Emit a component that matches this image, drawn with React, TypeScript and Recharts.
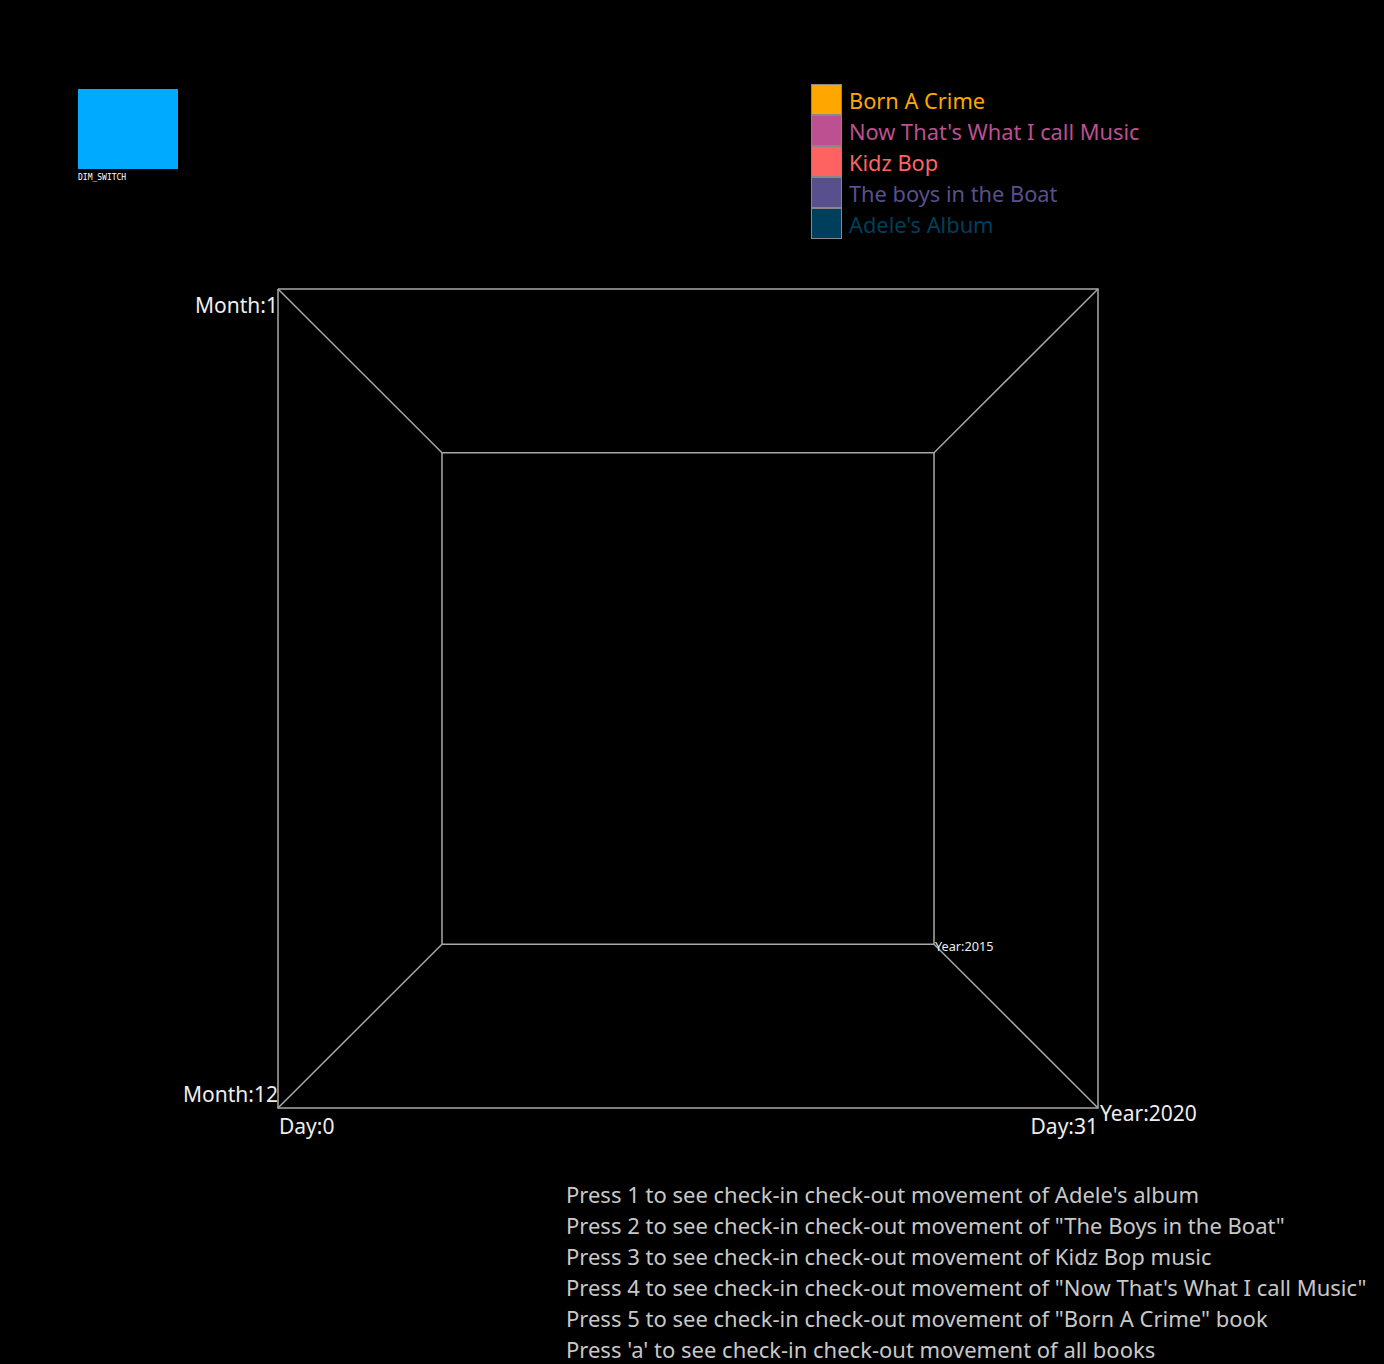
import React from "react";
import { ComposedChart, Line, XAxis, YAxis, ReferenceDot } from "recharts";

// cube frame in normalised view coords (0..1), y up
const frontFace = [
  { x: 0, y: 1 },
  { x: 1, y: 1 },
  { x: 1, y: 0 },
  { x: 0, y: 0 },
  { x: 0, y: 1 },
];
const backFace = [
  { x: 0.2, y: 0.8 },
  { x: 0.8, y: 0.8 },
  { x: 0.8, y: 0.2 },
  { x: 0.2, y: 0.2 },
  { x: 0.2, y: 0.8 },
];
const depthEdges = [
  [{ x: 0, y: 1 }, { x: 0.2, y: 0.8 }],
  [{ x: 1, y: 1 }, { x: 0.8, y: 0.8 }],
  [{ x: 1, y: 0 }, { x: 0.8, y: 0.2 }],
  [{ x: 0, y: 0 }, { x: 0.2, y: 0.2 }],
];

const books = [
  "Born A Crime",
  "Now That's What I call Music",
  "Kidz Bop",
  "The boys in the Boat",
  "Adele's Album",
];
const bookColors = ["#ffa600", "#bc5090", "#ff6361", "#58508d", "#003f5c"];

// axis end labels: [text, x, y, anchor, dx, dy, size]
const axisLabels: [string, number, number, "start" | "end", number, number, number][] = [
  ["Month:1", 0, 1, "end", 0, 24, 21],
  ["Month:12", 0, 0, "end", 0, -6, 21],
  ["Day:0", 0, 0, "start", 1, 26, 21],
  ["Day:31", 1, 0, "end", 0, 26, 21],
  ["Year:2020", 1, 0, "start", 2, 13, 21],
  ["Year:2015", 0.8, 0.2, "start", 1, 7, 12.7],
];

const instructions = [
  "Press 1 to see check-in check-out movement of Adele's album",
  'Press 2 to see check-in check-out movement of "The Boys in the Boat"',
  "Press 3 to see check-in check-out movement of Kidz Bop music",
  'Press 4 to see check-in check-out movement of "Now That\'s What I call Music"',
  'Press 5 to see check-in check-out movement of "Born A Crime" book',
  "Press 'a' to see check-in check-out movement of all books",
];

const FONT = "'Noto Sans', sans-serif";
const LINE = "#a8a8a8";

function BookLegend() {
  return (
    <div
      style={{
        position: "absolute",
        left: 811,
        top: 84,
        fontFamily: FONT,
        fontSize: 21.8,
        whiteSpace: "nowrap",
      }}
    >
      {books.map((b, i) => (
        <div key={b} style={{ display: "flex", alignItems: "center", height: 31 }}>
          <div
            style={{
              width: 29,
              height: 29,
              background: bookColors[i],
              border: "1px solid #888",
              marginRight: 7,
            }}
          />
          <span style={{ color: bookColors[i], lineHeight: "31px", position: "relative", top: 1 }}>
            {b}
          </span>
        </div>
      ))}
    </div>
  );
}

export default function App() {
  return (
    <div
      style={{
        position: "absolute",
        left: 0,
        top: 0,
        width: 1384,
        height: 1364,
        background: "#000",
        overflow: "hidden",
      }}
    >
      <div
        style={{
          position: "absolute",
          left: 78,
          top: 89,
          width: 100,
          height: 80,
          background: "#00aaff",
        }}
      />
      <div
        style={{
          position: "absolute",
          left: 78,
          top: 173,
          fontFamily: "'DejaVu Sans Mono', monospace",
          fontSize: 8,
          color: "#fff",
        }}
      >
        DIM_SWITCH
      </div>
      <BookLegend />
      <ComposedChart
        width={1384}
        height={1364}
        margin={{ top: 289, right: 286, bottom: 256, left: 278 }}
      >
        <XAxis type="number" dataKey="x" domain={[0, 1]} hide />
        <YAxis type="number" dataKey="y" domain={[0, 1]} hide />
        <Line
          data={frontFace}
          dataKey="y"
          stroke={LINE}
          strokeWidth={1.5}
          dot={false}
          isAnimationActive={false}
        />
        <Line
          data={backFace}
          dataKey="y"
          stroke={LINE}
          strokeWidth={1.5}
          dot={false}
          isAnimationActive={false}
        />
        {depthEdges.map((e, i) => (
          <Line
            key={i}
            data={e}
            dataKey="y"
            stroke={LINE}
            strokeWidth={1.5}
            dot={false}
            isAnimationActive={false}
          />
        ))}
        {axisLabels.map(([t, x, y, anchor, dx, dy, size]) => (
          <ReferenceDot
            key={t}
            x={x}
            y={y}
            r={1}
            fill="none"
            stroke="none"
            label={(props: any) => {
              const vb = props.viewBox || {};
              const cx = vb.x + (vb.width || 0) / 2;
              const cy = vb.y + (vb.height || 0) / 2;
              return (
                <text
                  x={cx + dx}
                  y={cy + dy}
                  textAnchor={anchor}
                  fill="#eeeeee"
                  fontSize={size}
                  fontFamily={FONT}
                >
                  {t}
                </text>
              );
            }}
          />
        ))}
      </ComposedChart>
      <div
        style={{
          position: "absolute",
          left: 566,
          top: 1179,
          fontFamily: FONT,
          fontSize: 22,
          color: "#c8c8c8",
          lineHeight: "31px",
          whiteSpace: "nowrap",
        }}
      >
        {instructions.map((s) => (
          <div key={s}>{s}</div>
        ))}
      </div>
    </div>
  );
}
